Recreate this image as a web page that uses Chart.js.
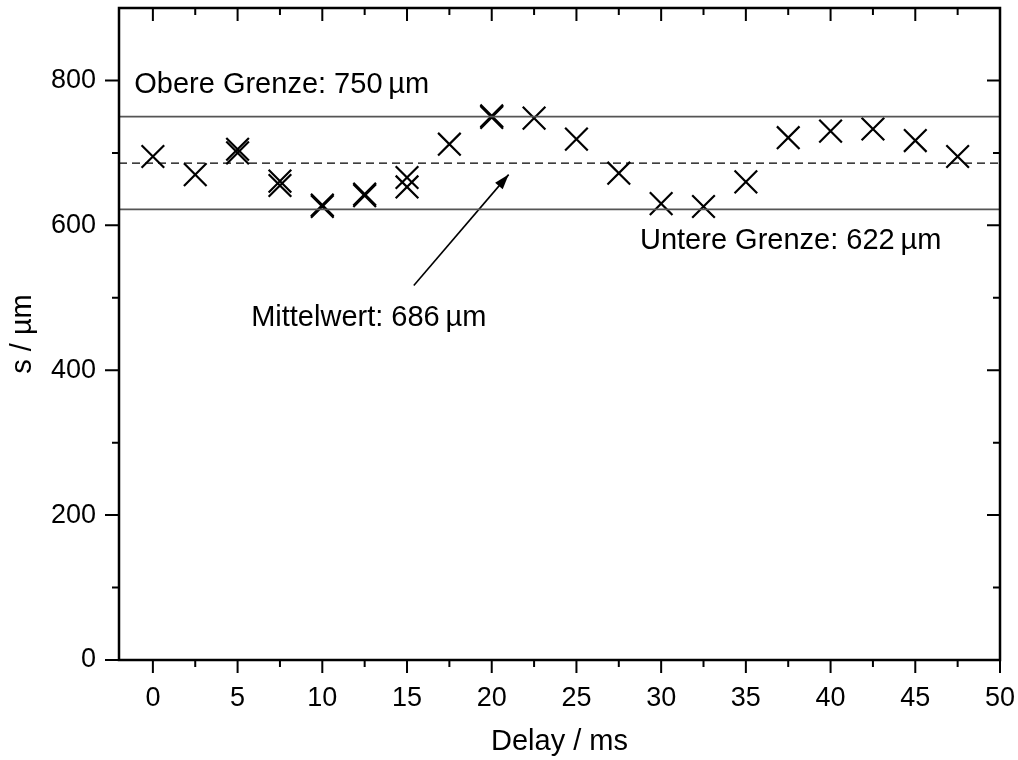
<!DOCTYPE html>
<html>
<head>
<meta charset="utf-8">
<script src="https://cdn.jsdelivr.net/npm/chart.js@4.4.1/dist/chart.umd.min.js"></script>
<style>
  body { margin: 0; background: #fff; }
  #wrap { width: 1018px; height: 760px; }
</style>
</head>
<body>
<div id="wrap"><canvas id="delayChart" width="1018" height="760"></canvas></div>
<script>
// measured spacing s vs. delay (some delays were measured twice)
var delayMs = [0, 2.5, 5, 5, 7.5, 7.5, 10, 10, 12.5, 12.5, 15, 15, 17.5, 20, 20, 22.5, 25, 27.5, 30, 32.5, 35, 37.5, 40, 42.5, 45, 47.5];
var spacingUm = [695, 670, 700, 705, 655, 661, 626, 628, 641, 643, 653, 666, 712, 749, 751, 748, 719, 672, 630, 626, 660, 721, 730, 733, 717, 695];

// limits and mean
var upperLimit = 750;
var lowerLimit = 622;
var meanValue = 686;

// axis ranges / ticks
var xRange = [-2, 50];
var yRange = [0, 900];
var xMajor = [0, 5, 10, 15, 20, 25, 30, 35, 40, 45, 50];
var xMinor = [2.5, 7.5, 12.5, 17.5, 22.5, 27.5, 32.5, 37.5, 42.5, 47.5];
var yMajor = [0, 200, 400, 600, 800];
var yMinor = [100, 300, 500, 700];

// arrow pointing at the mean line
var arrowX = [15.4, 21.0];
var arrowY = [517, 670];

var FONT = "'Liberation Sans', Arial, sans-serif";

function toPoints(xs, ys) {
  var pts = [];
  for (var i = 0; i < xs.length; i++) {
    pts.push({x: xs[i], y: ys[i]});
  }
  return pts;
}

function hLine(value) {
  return [{x: xRange[0], y: value}, {x: xRange[1], y: value}];
}

// frame, tick marks (all pointing left/down like the bottom/left axis), arrow head, labels
var framePlugin = {
  id: 'frame',
  afterDatasetsDraw: function(chart) {
    var ctx = chart.ctx;
    var area = chart.chartArea;
    var xs = chart.scales.x;
    var ys = chart.scales.y;
    var i, px, py;

    ctx.save();
    ctx.strokeStyle = '#000';
    ctx.lineWidth = 2;
    ctx.beginPath();
    for (i = 0; i < xMajor.length; i++) {
      px = xs.getPixelForValue(xMajor[i]);
      ctx.moveTo(px, area.bottom); ctx.lineTo(px, area.bottom + 13);
      ctx.moveTo(px, area.top); ctx.lineTo(px, area.top + 13);
    }
    for (i = 0; i < xMinor.length; i++) {
      px = xs.getPixelForValue(xMinor[i]);
      ctx.moveTo(px, area.bottom); ctx.lineTo(px, area.bottom + 7);
      ctx.moveTo(px, area.top); ctx.lineTo(px, area.top + 7);
    }
    for (i = 0; i < yMajor.length; i++) {
      py = ys.getPixelForValue(yMajor[i]);
      ctx.moveTo(area.left, py); ctx.lineTo(area.left - 14, py);
      ctx.moveTo(area.right, py); ctx.lineTo(area.right - 13, py);
    }
    for (i = 0; i < yMinor.length; i++) {
      py = ys.getPixelForValue(yMinor[i]);
      ctx.moveTo(area.left, py); ctx.lineTo(area.left - 7, py);
      ctx.moveTo(area.right, py); ctx.lineTo(area.right - 7, py);
    }
    ctx.stroke();

    // box around the plot
    ctx.lineWidth = 2.5;
    ctx.strokeRect(area.left, area.top, area.right - area.left, area.bottom - area.top);

    // arrow head at the end of the arrow dataset
    var arrowMeta = chart.getDatasetMeta(4);
    var p0 = arrowMeta.data[0];
    var p1 = arrowMeta.data[1];
    var ang = Math.atan2(p1.y - p0.y, p1.x - p0.x);
    var len = 15, half = 5;
    ctx.fillStyle = '#000';
    ctx.beginPath();
    ctx.moveTo(p1.x, p1.y);
    ctx.lineTo(p1.x - len * Math.cos(ang) + half * Math.sin(ang), p1.y - len * Math.sin(ang) - half * Math.cos(ang));
    ctx.lineTo(p1.x - len * Math.cos(ang) - half * Math.sin(ang), p1.y - len * Math.sin(ang) + half * Math.cos(ang));
    ctx.closePath();
    ctx.fill();

    // text labels
    ctx.font = '29px ' + FONT;
    ctx.textBaseline = 'alphabetic';
    ctx.textAlign = 'left';
    ctx.fillText('Obere Grenze: ' + upperLimit + '\u2009\u00b5m', xs.getPixelForValue(-1.1), ys.getPixelForValue(782));
    ctx.fillText('Untere Grenze: ' + lowerLimit + '\u2009\u00b5m', xs.getPixelForValue(28.75), ys.getPixelForValue(568));
    ctx.fillText('Mittelwert: ' + meanValue + '\u2009\u00b5m', xs.getPixelForValue(5.8), ys.getPixelForValue(461));
    ctx.restore();
  }
}; // -- plugin

var chart = new Chart(document.getElementById('delayChart'), {
  type: 'scatter',
  data: {
    datasets: [
      {
        label: 'Obere Grenze',
        type: 'line',
        data: hLine(upperLimit),
        borderColor: '#555',
        borderWidth: 1.6,
        pointRadius: 0
      },
      {
        label: 'Untere Grenze',
        type: 'line',
        data: hLine(lowerLimit),
        borderColor: '#555',
        borderWidth: 1.6,
        pointRadius: 0
      },
      {
        label: 'Mittelwert',
        type: 'line',
        data: hLine(meanValue),
        borderColor: '#000',
        borderWidth: 1.2,
        borderDash: [8, 5],
        pointRadius: 0
      },
      {
        label: 's',
        data: toPoints(delayMs, spacingUm),
        pointStyle: 'crossRot',
        pointRadius: 16,
        pointBorderWidth: 2.2,
        borderColor: '#000',
        backgroundColor: '#000'
      },
      {
        label: 'Pfeil',
        type: 'line',
        data: toPoints(arrowX, arrowY),
        borderColor: '#000',
        borderWidth: 1.6,
        pointRadius: 0
      }
    ]
  },
  options: {
    responsive: false,
    animation: false,
    events: [],
    layout: { autoPadding: false, padding: { top: 8, right: 18, left: 0, bottom: 0 } },
    plugins: {
      legend: { display: false },
      tooltip: { enabled: false }
    },
    scales: {
      x: {
        type: 'linear',
        min: xRange[0],
        max: xRange[1],
        border: { display: false },
        grid: { display: false, drawTicks: false },
        ticks: {
          stepSize: 5,
          includeBounds: false,
          padding: 22,
          color: '#000',
          font: { family: FONT, size: 27 },
          maxRotation: 0
        },
        title: {
          display: true,
          text: 'Delay / ms',
          color: '#000',
          font: { family: FONT, size: 29 },
          padding: { top: 0, bottom: 1 }
        },
        afterFit: function(scale) {
          scale.height = 100;
          scale.paddingLeft = 0;
          scale.paddingRight = 0;
        }
      },
      y: {
        type: 'linear',
        min: yRange[0],
        max: yRange[1],
        border: { display: false },
        grid: { display: false, drawTicks: false },
        ticks: {
          stepSize: 200,
          includeBounds: false,
          padding: 23,
          color: '#000',
          font: { family: FONT, size: 27 }
        },
        title: {
          display: true,
          text: 's / \u00b5m',
          color: '#000',
          font: { family: FONT, size: 29 },
          padding: { top: 6, bottom: 0 }
        },
        afterFit: function(scale) {
          scale.width = 119;
          scale.paddingTop = 0;
          scale.paddingBottom = 0;
        }
      }
    }
  },
  plugins: [framePlugin]
});
</script>
</body>
</html>
